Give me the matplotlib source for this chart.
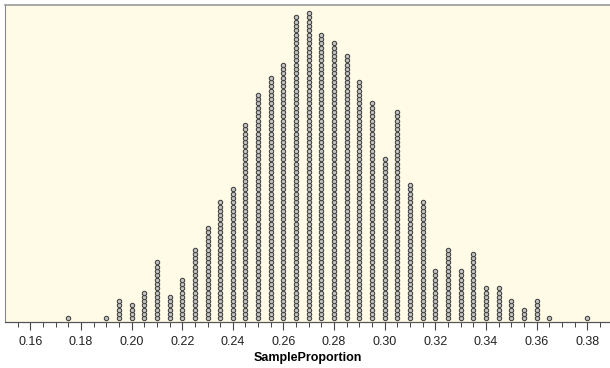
import matplotlib.pyplot as plt
import numpy as np

plt.rcParams['font.family'] = ['Liberation Sans', 'DejaVu Sans']

proportions = [0.175, 0.19, 0.195, 0.20, 0.205, 0.21, 0.215, 0.22, 0.225, 0.23,
               0.235, 0.24, 0.245, 0.25, 0.255, 0.26, 0.265, 0.27, 0.275, 0.28,
               0.285, 0.29, 0.295, 0.30, 0.305, 0.31, 0.315, 0.32, 0.325, 0.33,
               0.335, 0.34, 0.345, 0.35, 0.355, 0.36, 0.365, 0.38]
counts = [1, 1, 5, 4, 7, 14, 6, 10, 17, 22,
          28, 31, 46, 53, 57, 60, 71, 72, 67, 65,
          62, 56, 51, 38, 49, 32, 28, 12, 17, 12,
          16, 8, 8, 5, 3, 5, 1, 1]
tick_vals = [0.16, 0.18, 0.20, 0.22, 0.24, 0.26, 0.28, 0.30, 0.32, 0.34, 0.36, 0.38]

fig = plt.figure(figsize=(6.10, 3.68), dpi=100)
ax = fig.add_axes([5 / 610, 46 / 368, 1 - 5 / 610, 317 / 368])
ax.set_facecolor('#fffbe6')

xs = []
ys = []
for p, c in zip(proportions, counts):
    xs += [p] * c
    ys += list(range(c))
ax.scatter(xs, ys, s=10, facecolor='#c4c4c4', edgecolor='#3f3f3f', linewidth=0.75, zorder=3)

ax.set_xlim(0.15, 0.389)
ax.set_ylim(-0.85, 72.9)
ax.set_yticks([])
ax.set_xticks(tick_vals)
ax.set_xticklabels(['%.2f' % v for v in tick_vals], fontsize=9, color='#222222')
ax.set_xticks(np.arange(0.155, 0.389, 0.005), minor=True)
ax.tick_params(axis='x', which='major', length=6, width=0.8, color='#444444', pad=4)
ax.tick_params(axis='x', which='minor', length=3.5, width=0.7, color='#444444')
ax.set_xlabel('SampleProportion', fontsize=9, fontweight='bold', labelpad=3)

ax.spines['right'].set_visible(False)
ax.spines['top'].set_color('#999999')
ax.spines['top'].set_linewidth(1.2)
ax.spines['left'].set_color('#888888')
ax.spines['left'].set_linewidth(0.8)
ax.spines['bottom'].set_color('#555555')
ax.spines['bottom'].set_linewidth(0.9)

fig.savefig('out.png', dpi=100)
